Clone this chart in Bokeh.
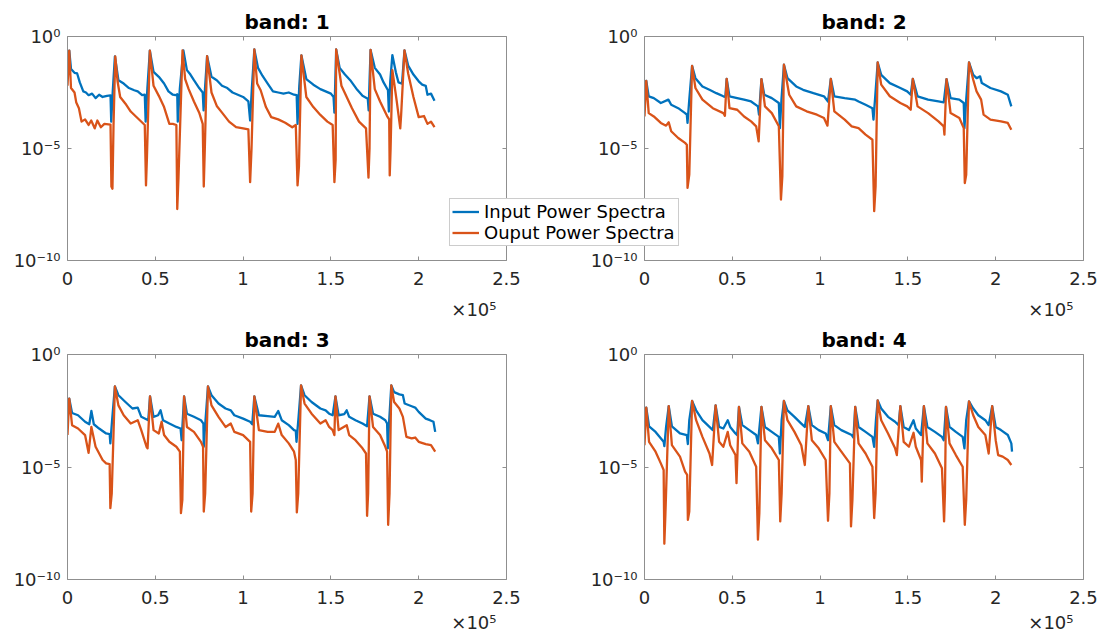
from bokeh.plotting import figure
from bokeh.layouts import column, row
from bokeh.models import (Range1d, FixedTicker, CustomJSTickFormatter, LinearAxis, LogAxis,
                          Legend, LegendItem, Title)
from bokeh.embed import file_html
from bokeh.resources import INLINE

# ---------------- data (x in units of 1e5, y as log10 of power) ----------------
band1_in_x = [0.0, 0.01, 0.02, 0.04, 0.055, 0.07, 0.09, 0.105, 0.12, 0.14, 0.16, 0.18, 0.20, 0.225, 0.245, 0.249, 0.258, 0.27,
              0.29, 0.32, 0.35, 0.38, 0.40, 0.425, 0.44, 0.445, 0.455, 0.469, 0.49, 0.52, 0.55, 0.575, 0.60, 0.615, 0.625,
              0.628, 0.64, 0.66, 0.68, 0.70, 0.72, 0.75, 0.77, 0.775, 0.784, 0.795, 0.82, 0.85, 0.88, 0.91, 0.94, 0.97,
              1.0, 1.03, 1.04, 1.05, 1.064, 1.085, 1.11, 1.14, 1.17, 1.2, 1.23, 1.26, 1.29, 1.305, 1.31, 1.32, 1.332,
              1.36, 1.40, 1.44, 1.47, 1.50, 1.515, 1.52, 1.525, 1.53, 1.55, 1.58, 1.61, 1.65, 1.68, 1.71, 1.715, 1.72,
              1.726, 1.75, 1.78, 1.80, 1.825, 1.83, 1.838, 1.85, 1.87, 1.885, 1.905, 1.919, 1.94, 1.97, 2.0, 2.02, 2.04,
              2.05, 2.07, 2.09]
band1_in_log = [-1.22, -0.63, -1.45, -1.62, -1.65, -2.05, -2.45, -2.5, -2.62, -2.55, -2.75, -2.6, -2.7, -2.65, -2.63, -3.8, -2.4, -0.89,
                -1.95, -2.1, -2.3, -2.4, -2.45, -2.62, -2.6, -3.8, -2.3, -0.63, -1.58, -1.8, -2.1, -2.45, -2.6, -2.62, -2.58,
                -3.8, -2.3, -0.62, -1.5, -1.7, -1.95, -2.3, -2.5, -3.3, -2.2, -0.88, -1.8, -1.95, -2.2, -2.3, -2.5, -2.6,
                -2.7, -2.9, -3.75, -2.3, -0.58, -1.4, -1.75, -2.1, -2.45, -2.5, -2.55, -2.5, -2.6, -2.62, -3.9, -2.2, -0.84,
                -1.9, -2.15, -2.35, -2.45, -2.55, -2.7, -3.4, -2.0, -0.58, -1.4, -1.7, -1.95, -2.38, -2.65, -2.78, -3.3, -2.0,
                -0.6, -1.4, -1.7, -2.05, -2.4, -3.35, -2.0, -0.83, -1.6, -2.05, -2.1, -0.62, -1.3, -1.7, -2.0, -2.15, -2.2,
                -2.6, -2.55, -2.87]
band1_out_x = [0.0, 0.01, 0.02, 0.04, 0.05, 0.065, 0.08, 0.10, 0.12, 0.135, 0.155, 0.17, 0.19, 0.21, 0.245, 0.25, 0.256, 0.262,
               0.272, 0.285, 0.30, 0.33, 0.36, 0.40, 0.44, 0.447, 0.452, 0.469, 0.49, 0.52, 0.55, 0.58, 0.60, 0.62, 0.625,
               0.632, 0.655, 0.67, 0.69, 0.72, 0.75, 0.77, 0.776, 0.782, 0.795, 0.82, 0.85, 0.88, 0.92, 0.96, 1.0, 1.03,
               1.04, 1.048, 1.064, 1.08, 1.10, 1.13, 1.16, 1.20, 1.24, 1.28, 1.30, 1.31, 1.318, 1.332, 1.36, 1.40, 1.44,
               1.48, 1.51, 1.52, 1.527, 1.53, 1.56, 1.59, 1.62, 1.66, 1.70, 1.714, 1.72, 1.726, 1.75, 1.78, 1.82, 1.832,
               1.835, 1.84, 1.85, 1.875, 1.895, 1.90, 1.919, 1.94, 1.97, 2.0, 2.03, 2.05, 2.07, 2.09]
band1_out_log = [-2.2, -0.63, -2.3, -2.5, -2.95, -3.2, -3.8, -3.7, -3.95, -3.75, -4.1, -3.75, -4.05, -3.9, -3.93, -6.7, -6.8, -4.0,
                 -0.89, -2.0, -2.7, -3.0, -3.35, -3.65, -3.95, -6.65, -5.5, -0.63, -2.2, -2.65, -3.15, -3.9, -3.9, -3.95, -7.7,
                 -6.3, -0.62, -1.9, -2.35, -2.9, -3.4, -3.9, -6.7, -5.0, -0.88, -2.5, -3.1, -3.4, -3.8, -4.05, -4.1, -4.15,
                 -6.5, -5.0, -0.58, -2.1, -2.4, -3.15, -3.6, -3.7, -3.85, -4.05, -3.95, -6.65, -5.8, -0.84, -2.7, -3.15, -3.5,
                 -3.8, -3.95, -6.5, -5.5, -0.58, -2.2, -2.7, -3.2, -3.8, -4.1, -6.3, -5.0, -0.6, -2.35, -2.9, -3.55, -3.7,
                 -6.2, -5.0, -1.5, -2.9, -4.1, -3.5, -0.62, -1.65, -2.7, -3.6, -3.55, -3.9, -3.8, -4.05]

band2_in_x = [0.0, 0.01, 0.024, 0.053, 0.093, 0.136, 0.152, 0.192, 0.231, 0.241, 0.245, 0.255, 0.271, 0.29, 0.33, 0.37, 0.409,
              0.449, 0.46, 0.468, 0.484, 0.528, 0.567, 0.607, 0.646, 0.652, 0.666, 0.682, 0.725, 0.765, 0.771, 0.78, 0.794,
              0.814, 0.864, 0.903, 0.962, 1.022, 1.045, 1.061, 1.081, 1.14, 1.2, 1.219, 1.259, 1.298, 1.304, 1.314, 1.328,
              1.348, 1.397, 1.457, 1.496, 1.516, 1.528, 1.555, 1.615, 1.674, 1.704, 1.72, 1.743, 1.793, 1.818, 1.822,
              1.832, 1.848, 1.872, 1.891, 1.911, 1.921, 1.97, 2.03, 2.069, 2.089]
band2_in_log = [-2.3, -1.98, -2.67, -2.75, -2.97, -2.82, -3.05, -3.2, -3.42, -3.49, -3.86, -2.82, -1.31, -1.86, -2.23, -2.38, -2.53,
                -2.67, -2.7, -1.89, -2.67, -2.75, -2.82, -2.9, -3.12, -3.49, -1.9, -2.6, -2.75, -2.97, -4.09, -2.82, -1.26,
                -1.86, -2.23, -2.38, -2.53, -2.67, -2.9, -1.89, -2.67, -2.75, -2.82, -2.9, -3.05, -3.2, -3.71, -2.67, -1.16,
                -1.71, -2.08, -2.3, -2.45, -2.6, -1.89, -2.67, -2.82, -2.9, -2.94, -1.9, -2.75, -2.82, -2.97, -4.09,
                -2.82, -1.16, -1.71, -1.86, -1.78, -2.08, -2.3, -2.45, -2.6, -3.12]
band2_out_x = [0.0, 0.01, 0.024, 0.053, 0.093, 0.123, 0.138, 0.152, 0.192, 0.231, 0.241, 0.245, 0.255, 0.271, 0.29, 0.33, 0.389,
               0.449, 0.458, 0.468, 0.484, 0.528, 0.567, 0.607, 0.636, 0.65, 0.666, 0.686, 0.725, 0.765, 0.777, 0.785, 0.794,
               0.824, 0.864, 0.923, 0.982, 1.022, 1.042, 1.061, 1.081, 1.14, 1.18, 1.219, 1.259, 1.298, 1.308, 1.316, 1.328,
               1.348, 1.397, 1.457, 1.496, 1.516, 1.528, 1.555, 1.615, 1.674, 1.704, 1.708, 1.72, 1.743, 1.793, 1.818,
               1.824, 1.832, 1.848, 1.872, 1.891, 1.917, 1.931, 1.97, 2.03, 2.069, 2.089]
band2_out_log = [-3.57, -1.98, -3.42, -3.57, -3.86, -3.98, -3.83, -4.23, -4.53, -4.75, -4.83, -6.76, -6.17, -1.31, -2.3, -2.82, -3.2,
                 -3.42, -3.54, -1.89, -3.2, -3.27, -3.57, -3.79, -4.01, -4.68, -1.9, -3.12, -3.42, -4.01, -7.28, -6.24, -1.26,
                 -2.6, -3.12, -3.34, -3.49, -3.64, -3.98, -1.89, -3.34, -3.71, -4.01, -4.09, -4.38, -4.61, -7.8, -6.69, -1.16,
                 -2.15, -2.67, -2.97, -3.12, -3.27, -1.89, -3.12, -3.42, -3.79, -4.01, -4.38, -1.9, -3.42, -3.64, -4.09,
                 -6.54, -6.17, -1.16, -1.93, -2.45, -2.82, -3.49, -3.71, -3.79, -3.86, -4.16]

band3_in_x = [0.0, 0.01, 0.026, 0.06, 0.1, 0.124, 0.136, 0.15, 0.18, 0.22, 0.24, 0.244, 0.254, 0.27, 0.29, 0.33, 0.37, 0.4, 0.42,
              0.46, 0.47, 0.49, 0.516, 0.53, 0.544, 0.58, 0.62, 0.644, 0.65, 0.664, 0.68, 0.72, 0.76, 0.774, 0.776, 0.786,
              0.8, 0.82, 0.86, 0.9, 0.93, 0.95, 1.0, 1.04, 1.052, 1.064, 1.09, 1.14, 1.18, 1.2, 1.22, 1.26, 1.29, 1.3,
              1.304, 1.316, 1.33, 1.35, 1.39, 1.44, 1.47, 1.49, 1.51, 1.526, 1.544, 1.576, 1.59, 1.604, 1.64, 1.68, 1.706,
              1.72, 1.74, 1.78, 1.81, 1.82, 1.824, 1.832, 1.844, 1.86, 1.89, 1.91, 1.92, 1.96, 1.98, 2.0, 2.04, 2.064,
              2.084, 2.094]
band3_in_log = [-2.3, -1.96, -2.6, -2.7, -2.99, -3.1, -2.51, -3.1, -3.29, -3.51, -3.54, -3.95, -2.92, -1.42, -1.81, -2.11, -2.4,
                -2.36, -2.77, -2.92, -1.86, -2.77, -2.7, -2.48, -2.92, -3.07, -3.22, -3.29, -3.81, -1.86, -2.63, -2.77,
                -2.92, -3.07, -4.1, -2.92, -1.42, -1.81, -2.18, -2.4, -2.48, -2.7, -2.85, -2.99, -3.1, -1.86, -2.7, -2.74,
                -2.77, -2.51, -2.92, -3.14, -3.36, -3.39, -3.88, -2.77, -1.37, -1.81, -2.11, -2.4, -2.48, -2.63, -2.7,
                -1.86, -2.7, -2.65, -2.48, -2.77, -2.92, -3.07, -3.19, -1.86, -2.63, -2.77, -2.92, -3.07, -4.17, -2.92,
                -1.37, -1.67, -1.77, -1.81, -2.18, -2.3, -2.36, -2.55, -2.85, -2.92, -2.99, -3.44]
band3_out_x = [0.0, 0.01, 0.026, 0.06, 0.1, 0.12, 0.136, 0.16, 0.2, 0.22, 0.24, 0.244, 0.252, 0.27, 0.29, 0.32, 0.36, 0.4, 0.42,
               0.45, 0.456, 0.47, 0.49, 0.52, 0.536, 0.55, 0.58, 0.62, 0.64, 0.646, 0.654, 0.664, 0.68, 0.72, 0.76, 0.772,
               0.776, 0.784, 0.8, 0.82, 0.86, 0.9, 0.93, 0.95, 1.0, 1.04, 1.046, 1.054, 1.064, 1.09, 1.14, 1.18, 1.2, 1.22,
               1.26, 1.29, 1.3, 1.306, 1.314, 1.33, 1.35, 1.39, 1.44, 1.47, 1.49, 1.51, 1.52, 1.526, 1.544, 1.59, 1.604,
               1.64, 1.68, 1.7, 1.706, 1.712, 1.72, 1.74, 1.78, 1.81, 1.82, 1.826, 1.834, 1.844, 1.86, 1.89, 1.91, 1.93,
               1.96, 1.98, 2.0, 2.04, 2.07, 2.094]
band3_out_log = [-3.58, -1.96, -3.14, -3.29, -3.58, -4.37, -3.22, -4.1, -4.69, -4.84, -4.87, -6.83, -6.17, -1.42, -2.26, -2.7,
                 -3.07, -2.92, -3.36, -4.1, -4.17, -1.86, -3.36, -3.51, -2.99, -3.58, -3.88, -4.1, -4.32, -7.05, -6.46, -1.86,
                 -3.22, -3.44, -3.88, -4.1, -6.98, -6.17, -1.42, -2.26, -2.77, -3.22, -3.07, -3.44, -3.58, -3.88, -6.98,
                 -6.17, -1.86, -3.36, -3.44, -3.44, -3.07, -3.58, -3.95, -4.32, -4.69, -7.02, -6.17, -1.37, -2.18, -2.63,
                 -3.07, -2.92, -3.22, -3.36, -3.58, -1.86, -3.36, -3.14, -3.58, -3.81, -4.17, -4.4, -7.17, -6.17, -1.86,
                 -3.22, -3.58, -4.1, -4.32, -7.57, -6.17, -1.37, -2.11, -2.4, -2.77, -3.66, -3.73, -3.69, -3.88, -3.98,
                 -4.03, -4.32]

band4_in_x = [0.0, 0.01, 0.026, 0.063, 0.109, 0.113, 0.123, 0.138, 0.156, 0.202, 0.241, 0.247, 0.255, 0.271, 0.294, 0.33, 0.37,
              0.389, 0.405, 0.425, 0.449, 0.474, 0.488, 0.518, 0.528, 0.538, 0.557, 0.597, 0.636, 0.646, 0.666, 0.686,
              0.725, 0.765, 0.771, 0.781, 0.794, 0.814, 0.854, 0.893, 0.913, 0.933, 0.953, 0.992, 1.032, 1.045, 1.061,
              1.081, 1.121, 1.18, 1.19, 1.2, 1.219, 1.259, 1.298, 1.308, 1.318, 1.328, 1.348, 1.387, 1.427, 1.447, 1.457,
              1.476, 1.506, 1.532, 1.545, 1.575, 1.591, 1.611, 1.654, 1.694, 1.704, 1.717, 1.737, 1.773, 1.812, 1.822,
              1.832, 1.848, 1.872, 1.901, 1.941, 1.96, 1.98, 2.0, 2.03, 2.069, 2.089, 2.093]
band4_in_log = [-2.92, -2.36, -3.19, -3.44, -3.88, -4.07, -3.22, -2.3, -3.19, -3.51, -3.58, -3.98, -2.92, -2.06, -2.48, -2.92,
                -3.22, -3.36, -2.26, -3.22, -3.29, -2.92, -3.22, -3.51, -3.58, -2.33, -3.14, -3.36, -3.58, -3.95, -2.33,
                -3.22, -3.44, -3.66, -4.4, -2.92, -2.06, -2.48, -2.77, -3.07, -3.22, -2.3, -3.14, -3.36, -3.51, -3.81, -2.3,
                -3.14, -3.36, -3.58, -3.69, -2.33, -3.22, -3.44, -3.66, -4.1, -2.92, -2.04, -2.4, -2.77, -2.99, -3.14, -2.3,
                -3.22, -3.36, -2.92, -3.29, -3.58, -2.3, -3.22, -3.44, -3.66, -3.81, -2.33, -3.22, -3.44, -3.66, -4.17,
                -2.92, -2.08, -2.4, -2.7, -2.92, -3.14, -2.3, -3.22, -3.36, -3.58, -3.95, -4.32]
band4_out_x = [0.0, 0.01, 0.026, 0.063, 0.093, 0.109, 0.113, 0.119, 0.138, 0.156, 0.202, 0.231, 0.243, 0.247, 0.255, 0.271,
               0.294, 0.33, 0.37, 0.385, 0.405, 0.425, 0.449, 0.474, 0.488, 0.518, 0.524, 0.538, 0.557, 0.597, 0.636, 0.646,
               0.654, 0.666, 0.686, 0.725, 0.765, 0.773, 0.781, 0.794, 0.814, 0.854, 0.893, 0.913, 0.933, 0.953, 0.992,
               1.032, 1.045, 1.053, 1.061, 1.081, 1.121, 1.17, 1.176, 1.184, 1.2, 1.219, 1.259, 1.298, 1.308, 1.316, 1.328,
               1.348, 1.387, 1.427, 1.437, 1.457, 1.476, 1.506, 1.532, 1.545, 1.575, 1.579, 1.591, 1.611, 1.654, 1.694,
               1.706, 1.711, 1.717, 1.737, 1.773, 1.812, 1.824, 1.832, 1.848, 1.872, 1.901, 1.941, 1.96, 1.98, 2.0, 2.014,
               2.04, 2.069, 2.089]
band4_out_log = [-4.03, -2.36, -3.88, -4.32, -4.84, -5.13, -8.41, -7.12, -2.3, -4.03, -4.54, -5.21, -5.35, -7.35, -6.98, -2.06,
                 -2.92, -3.66, -4.4, -4.91, -2.26, -3.88, -4.1, -3.44, -4.03, -4.47, -5.72, -2.33, -3.95, -4.32, -4.99, -8.23,
                 -7.05, -2.33, -3.81, -4.17, -4.69, -7.42, -6.17, -2.06, -2.92, -3.44, -4.03, -4.91, -2.3, -3.81, -4.17,
                 -4.69, -7.39, -6.17, -2.3, -3.88, -4.32, -4.84, -7.64, -6.46, -2.33, -3.95, -4.4, -4.99, -7.27, -6.17, -2.04,
                 -2.92, -3.51, -4.17, -4.47, -2.3, -3.88, -4.1, -3.48, -4.1, -4.69, -5.65, -2.3, -3.95, -4.4, -5.06, -7.42,
                 -6.17, -2.33, -3.95, -4.47, -4.99, -7.57, -6.46, -2.08, -2.7, -3.22, -3.58, -4.4, -2.3, -3.81, -4.47, -4.54,
                 -4.69, -4.91]

titles = ["band: 1", "band: 2", "band: 3", "band: 4"]
series_names = ["Input Power Spectra", "Ouput Power Spectra"]
x_ticks = [0, 50000, 100000, 150000, 200000, 250000]
y_ticks = [1e-10, 1e-05, 1.0]
x_multiplier = "\u00d710\u2075"

BLUE = "#0072BD"
ORANGE = "#D95319"
FONT = "DejaVu Sans"
GRAY = "#8f8f8f"
TXT = "#262626"
FS = "18px"

XFMT = CustomJSTickFormatter(code="return String(tick / 1e5);")
YFMT = CustomJSTickFormatter(code="""
const e = Math.round(Math.log10(tick));
const sup = {'0':'\u2070','1':'\u00b9','2':'\u00b2','3':'\u00b3','4':'\u2074','5':'\u2075','6':'\u2076','7':'\u2077','8':'\u2078','9':'\u2079','-':'\u207b'};
return '10' + String(e).split('').map(c => sup[c]).join('');
""")


def style_axis(ax, ticks, fmt, labels=True):
    ax.ticker = FixedTicker(ticks=ticks)
    ax.formatter = fmt
    ax.major_tick_in = 4
    ax.major_tick_out = 0
    ax.minor_tick_line_color = None
    ax.axis_line_color = GRAY
    ax.axis_line_width = 1
    ax.major_tick_line_color = GRAY
    ax.major_label_text_font = FONT
    if labels:
        ax.major_label_text_font_size = FS
        ax.major_label_text_color = TXT
    else:
        ax.major_label_text_font_size = "0px"
        ax.major_label_text_color = None
        ax.major_label_standoff = 0


def make_panel(idx, xin, yin, xout, yout, left, right, top, bottom, fh, mult_standoff):
    p = figure(frame_width=439, frame_height=fh,
               min_border_left=left, min_border_right=right,
               min_border_top=top, min_border_bottom=bottom,
               x_range=Range1d(0, 2.5e5), y_range=Range1d(1e-10, 1.0),
               y_axis_type="log", output_backend="svg", toolbar_location=None)
    p.grid.visible = False
    p.outline_line_color = None
    p.background_fill_color = "white"
    p.border_fill_color = None
    p.title = Title(text=titles[idx], align="center", text_font=FONT, text_font_size="20px",
                    text_font_style="bold", text_color="black", standoff=6)
    style_axis(p.xaxis[0], x_ticks, XFMT)
    p.xaxis[0].major_label_standoff = 11
    style_axis(p.yaxis[0], y_ticks, YFMT)
    p.yaxis[0].major_label_standoff = 7
    top_ax = LinearAxis()
    style_axis(top_ax, x_ticks, XFMT, labels=False)
    p.add_layout(top_ax, "above")
    right_ax = LogAxis()
    style_axis(right_ax, y_ticks, YFMT, labels=False)
    p.add_layout(right_ax, "right")

    r_in = p.line([v * 1e5 for v in xin], [10 ** v for v in yin], line_color=BLUE, line_width=2.3,
                  line_join="round")
    r_out = p.line([v * 1e5 for v in xout], [10 ** v for v in yout], line_color=ORANGE, line_width=2.3,
                   line_join="round")
    p.add_layout(Title(text=x_multiplier, align="right", text_font=FONT, text_font_size=FS,
                       text_font_style="normal", text_color=TXT, standoff=mult_standoff, offset=10), "below")
    return p, r_in, r_out


p1, _, _ = make_panel(0, band1_in_x, band1_in_log, band1_out_x, band1_out_log, 67, 71, 36, 80, 224, 18)
p2, _, _ = make_panel(1, band2_in_x, band2_in_log, band2_out_x, band2_out_log, 67, 21, 36, 80, 224, 18)
p3, _, _ = make_panel(2, band3_in_x, band3_in_log, band3_out_x, band3_out_log, 67, 71, 36, 62, 225, 6)
p4, _, _ = make_panel(3, band4_in_x, band4_in_log, band4_out_x, band4_out_log, 67, 21, 36, 62, 225, 6)

# Legend: a transparent figure the size of the whole top row, laid over it.
# Its frame shows no data (ranges lie away from the band-2 values); only the legend samples show.
leg_fig = figure(width=1104, height=340, min_border=0, title=None,
                 x_range=Range1d(-2, -1), y_range=Range1d(2, 3),
                 x_axis_location=None, y_axis_location=None, output_backend="svg", toolbar_location=None)
leg_fig.grid.visible = False
leg_fig.outline_line_color = None
leg_fig.background_fill_color = None
leg_fig.border_fill_color = None
lg_in = leg_fig.line([v * 1e5 for v in band2_in_x], [10 ** v for v in band2_in_log], line_color=BLUE, line_width=2.3)
lg_out = leg_fig.line([v * 1e5 for v in band2_out_x], [10 ** v for v in band2_out_log], line_color=ORANGE, line_width=2.3)
legend = Legend(items=[LegendItem(label=series_names[0], renderers=[lg_in]),
                       LegendItem(label=series_names[1], renderers=[lg_out])],
                location=(449, 14), orientation="vertical",
                label_text_font=FONT, label_text_font_size=FS, label_text_color="black",
                glyph_width=27, glyph_height=21, label_height=21, label_standoff=5, label_width=192,
                padding=2, spacing=0, margin=0,
                border_line_color="#9a9a9a", border_line_width=1,
                background_fill_color="white", background_fill_alpha=1.0)
leg_fig.add_layout(legend)
leg_fig.margin = (0, 0, 0, -1104)

top_row = row(p1, p2, leg_fig)
bottom_row = row(p3, p4)
bottom_row.margin = (-22, 0, 0, 0)
layout = column(top_row, bottom_row)
open("out.html", "w").write(file_html(layout, INLINE))
